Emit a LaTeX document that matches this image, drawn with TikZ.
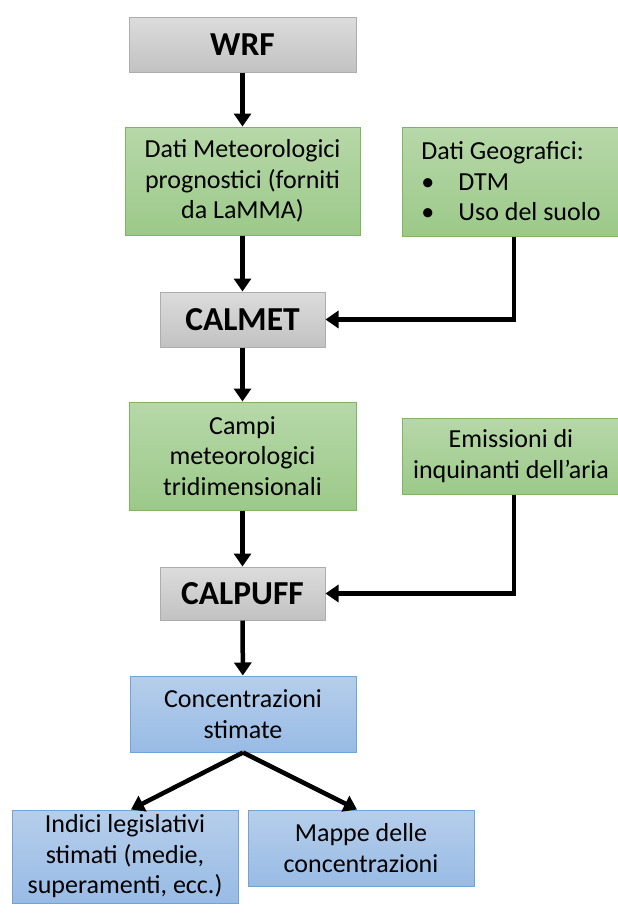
\documentclass[tikz,border=0pt]{standalone}
\usepackage{fontspec}
\setmainfont{Carlito}
\usetikzlibrary{arrows.meta,positioning}
\definecolor{grtop}{HTML}{DCDCDC}
\definecolor{grbot}{HTML}{C2C2C2}
\definecolor{grline}{HTML}{ADADAD}
\definecolor{gntop}{HTML}{B7D8A9}
\definecolor{gnbot}{HTML}{9CC989}
\definecolor{gnline}{HTML}{7CB660}
\definecolor{bltop}{HTML}{B6CEEB}
\definecolor{blbot}{HTML}{98BBE5}
\definecolor{blline}{HTML}{6FA4D9}

\tikzset{
  box/.style={line width=1pt, inner sep=0pt, align=center,
              font=\fontsize{26}{30.5}\selectfont},
  modelbox/.style={box, draw=grline, top color=grtop, bottom color=grbot,
                   font=\fontsize{33.5}{38}\selectfont\bfseries},
  databox/.style={box, draw=gnline, top color=gntop, bottom color=gnbot},
  outbox/.style={box, draw=blline, top color=bltop, bottom color=blbot},
  flow/.style={line width=4.5pt, -{Triangle[length=13pt,width=17pt]}}
}

\begin{document}
\begin{tikzpicture}[x=1pt,y=-1pt]
  \useasboundingbox (0,0) rectangle (618,913);

  \node[modelbox, minimum width=227pt, minimum height=55pt] (wrf) at (242.5,44.5) {WRF};
  \node[databox, minimum width=235pt, minimum height=108pt] (meteo) at (242.5,181)
    {Dati Meteorologici\\prognostici (forniti\\da LaMMA)};
  \node[databox, minimum width=218pt, minimum height=109pt, align=left] (geo) at (511,181.5)
    {Dati Geografici:\\\makebox[37pt][l]{\textbullet}DTM\\\makebox[37pt][l]{\textbullet}Uso del suolo};
  \node[modelbox, minimum width=165pt, minimum height=55pt] (calmet) at (242.5,319.5) {CALMET};
  \node[databox, minimum width=227pt, minimum height=108pt] (campi) at (242.5,456)
    {Campi\\meteorologici\\tridimensionali};
  \node[databox, minimum width=218pt, minimum height=76pt] (emis) at (511,456)
    {Emissioni di\\inquinanti dell'aria};
  \node[modelbox, minimum width=165pt, minimum height=53pt] (calpuff) at (242.5,593.5) {CALPUFF};
  \node[outbox, minimum width=226pt, minimum height=76pt] (conc) at (243,714)
    {Concentrazioni\\stimate};
  \node[outbox, minimum width=226pt, minimum height=93pt] (indici) at (125,856.5)
    {Indici legislativi\\stimati (medie,\\superamenti, ecc.)};
  \node[outbox, minimum width=226pt, minimum height=76pt] (mappe) at (361,848)
    {Mappe delle\\concentrazioni};

  \draw[flow] (wrf) -- (meteo);
  \draw[flow] (meteo) -- (calmet);
  \draw[flow] ([xshift=3pt]geo.south) |- (calmet.east);
  \draw[flow] (calmet) -- (campi);
  \draw[flow] (campi) -- (calpuff);
  \draw[flow] ([xshift=3pt]emis.south) |- (calpuff.east);
  \draw[flow] (calpuff) -- (conc);
  \draw[flow] (conc.south) -- ([xshift=6pt]indici.north);
  \draw[flow] (conc.south) -- ([xshift=-4pt]mappe.north);
\end{tikzpicture}
\end{document}
